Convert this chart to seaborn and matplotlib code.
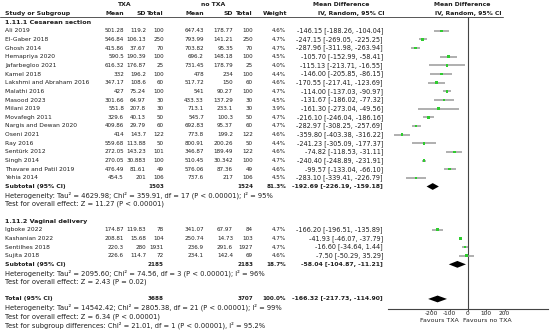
import matplotlib
matplotlib.use("Agg")
import matplotlib.pyplot as plt
import seaborn as sns
import pandas as pd

# ---------------- data ----------------
cs_studies = ["Ali 2019", "El-Gaber 2018", "Ghosh 2014", "Hemapriya 2020", "Jafarbegloo 2021",
              "Kamel 2018", "Lakshmi and Abraham 2016", "Malathi 2016", "Masood 2023", "Milani 2019",
              "Movafegh 2011", "Nargis and Dewan 2020", "Oseni 2021", "Ray 2016", "Sentürk 2012",
              "Singh 2014", "Thavare and Patil 2019", "Yehia 2014"]
cs_txa_mean = ["501.28", "546.84", "415.86", "590.5", "616.32", "332", "347.17", "427", "301.66", "551.8",
               "329.6", "409.86", "414", "559.68", "272.05", "270.05", "476.49", "454.5"]
cs_txa_sd = ["119.2", "106.13", "37.67", "190.39", "176.87", "196.2", "108.6", "75.24", "64.97", "207.8",
             "40.13", "29.79", "143.7", "113.88", "143.23", "30.883", "81.61", "201"]
cs_txa_n = [100, 250, 70, 100, 25, 100, 60, 100, 30, 30, 50, 60, 122, 50, 101, 100, 49, 106]
cs_no_mean = ["647.43", "793.99", "703.82", "696.2", "731.45", "478", "517.72", "541", "433.33", "713.1",
              "545.7", "692.83", "773.8", "800.91", "346.87", "510.45", "576.06", "737.6"]
cs_no_sd = ["178.77", "141.21", "95.35", "148.18", "178.79", "234", "150", "90.27", "137.29", "233.1",
            "100.3", "95.37", "199.2", "200.26", "189.49", "30.342", "87.36", "217"]
cs_no_n = [100, 250, 70, 100, 25, 100, 60, 100, 30, 30, 50, 60, 122, 50, 122, 100, 49, 106]
cs_weight = [4.6, 4.7, 4.7, 4.5, 4.0, 4.4, 4.6, 4.7, 4.5, 3.9, 4.7, 4.7, 4.6, 4.4, 4.6, 4.7, 4.6, 4.5]
cs_md = [-146.15, -247.15, -287.96, -105.70, -115.13, -146.00, -170.55, -114.00, -131.67, -161.30,
         -216.10, -282.97, -359.80, -241.23, -74.82, -240.40, -99.57, -283.10]
cs_lo = [-188.26, -269.05, -311.98, -152.99, -213.71, -205.85, -217.41, -137.03, -186.02, -273.04,
         -246.04, -308.25, -403.38, -305.09, -118.53, -248.89, -133.04, -339.41]
cs_hi = [-104.04, -225.25, -263.94, -58.41, -16.55, -86.15, -123.69, -90.97, -77.32, -49.56,
         -186.16, -257.69, -316.22, -177.37, -31.11, -231.91, -66.10, -226.79]

vd_studies = ["Igboke 2022", "Kashanian 2022", "Sentilhes 2018", "Sujita 2018"]
vd_txa_mean = ["174.87", "208.81", "220.3", "226.6"]
vd_txa_sd = ["119.83", "15.68", "280", "114.7"]
vd_txa_n = [78, 104, 1931, 72]
vd_no_mean = ["341.07", "250.74", "236.9", "234.1"]
vd_no_sd = ["67.97", "14.73", "291.6", "142.4"]
vd_no_n = [84, 103, 1927, 69]
vd_weight = [4.7, 4.7, 4.7, 4.6]
vd_md = [-166.20, -41.93, -16.60, -7.50]
vd_lo = [-196.51, -46.07, -34.64, -50.29]
vd_hi = [-135.89, -37.79, 1.44, 35.29]

pooled_labels = ["Subtotal (95% CI)", "Subtotal (95% CI)", "Total (95% CI)"]
pooled_txa_n = [1503, 2185, 3688]
pooled_no_n = [1524, 2183, 3707]
pooled_weight = ["81.3%", "18.7%", "100.0%"]
pooled_md = [-192.69, -58.04, -166.32]
pooled_lo = [-226.19, -104.87, -217.73]
pooled_hi = [-159.18, -11.21, -114.90]

het_lines = ["Heterogeneity: Tau² = 4629.98; Chi² = 359.91, df = 17 (P < 0.00001); I² = 95%",
             "Heterogeneity: Tau² = 2095.60; Chi² = 74.56, df = 3 (P < 0.00001); I² = 96%",
             "Heterogeneity: Tau² = 14542.42; Chi² = 2805.38, df = 21 (P < 0.00001); I² = 99%"]
effect_lines = ["Test for overall effect: Z = 11.27 (P < 0.00001)",
                "Test for overall effect: Z = 2.43 (P = 0.02)",
                "Test for overall effect: Z = 6.34 (P < 0.00001)"]
subgroup_line = "Test for subgroup differences: Chi² = 21.01, df = 1 (P < 0.00001), I² = 95.2%"
section_titles = ["1.11.1 Cesarean section", "1.11.2 Vaginal delivery"]
tick_values = [-200, -100, 0, 100, 200]
tick_labels = ["-200", "-100", "0", "100", "200"]

# ---------------- layout ----------------
W, H = 554, 331
Y0, DY = 30.8, 8.65
def row_y(i):
    return Y0 + DY * i

FS_NAME = 4.35
FS_NUM = 4.05
FS_CI = 4.7
FS_BOLD = 4.4
FS_HET = 4.85
TXT = "#1e1e1e"
GREEN = "#2ecc2e"
GREY = "#9a9a9a"

sns.set_theme(style="white")
plt.rcParams["font.family"] = ["DejaVu Sans"]

fig = plt.figure(figsize=(W / 100, H / 100), dpi=100)
tax = fig.add_axes([0, 0, 1, 1])
tax.set_xlim(0, W)
tax.set_ylim(H, 0)
tax.axis("off")

def t(x, y, s, fs, ha="left", bold=False):
    tax.text(x, y, s, ha=ha, va="center", fontsize=fs, color=TXT,
             fontweight="bold" if bold else "normal")

# column right edges
cx = dict(tm=124, tsd=146, tn=164, nm=204, nsd=233, nn=253, w=286, ci=383)
XL = 5

# headers
t(124.5, 4.5, "TXA", FS_BOLD, ha="center", bold=True)
t(213, 4.5, "no TXA", FS_BOLD, ha="center", bold=True)
t(341, 4.5, "Mean Difference", FS_BOLD, ha="center", bold=True)
t(462, 4.5, "Mean Difference", FS_BOLD, ha="center", bold=True)
hy = 13.3
t(XL, hy, "Study or Subgroup", FS_BOLD, bold=True)
for key, lab in [("tm", "Mean"), ("tsd", "SD"), ("tn", "Total"), ("nm", "Mean"),
                 ("nsd", "SD"), ("nn", "Total"), ("w", "Weight")]:
    t(cx[key] + (1 if key == "w" else 0), hy, lab, FS_BOLD, ha="right", bold=True)
t(351, hy, "IV, Random, 95% CI", FS_BOLD, ha="center", bold=True)
t(468, hy, "IV, Random, 95% CI", FS_BOLD, ha="center", bold=True)
tax.plot([0, 503], [16.8, 16.8], color="#555555", lw=0.7)

def ci_txt(m, lo, hi):
    return f"{m:.2f} [{lo:.2f}, {hi:.2f}]"

def study_rows(start, names, tm, tsd, tn, nm, nsd, nn, w, md, lo, hi):
    ys = []
    for k in range(len(names)):
        y = row_y(start + k)
        ys.append(y)
        t(XL, y, names[k], FS_NAME)
        t(cx["tm"], y, tm[k], FS_NUM, ha="right")
        t(cx["tsd"], y, tsd[k], FS_NUM, ha="right")
        t(cx["tn"], y, str(tn[k]), FS_NUM, ha="right")
        t(cx["nm"], y, nm[k], FS_NUM, ha="right")
        t(cx["nsd"], y, nsd[k], FS_NUM, ha="right")
        t(cx["nn"], y, str(nn[k]), FS_NUM, ha="right")
        t(cx["w"], y, f"{w[k]:.1f}%", FS_NUM, ha="right")
        t(cx["ci"], y, ci_txt(md[k], lo[k], hi[k]), FS_CI, ha="right")
    return ys

t(XL, row_y(-1), section_titles[0], FS_BOLD + 0.2, bold=True)
cs_y = study_rows(0, cs_studies, cs_txa_mean, cs_txa_sd, cs_txa_n, cs_no_mean, cs_no_sd, cs_no_n,
                  cs_weight, cs_md, cs_lo, cs_hi)
t(XL, row_y(22), section_titles[1], FS_BOLD + 0.2, bold=True)
vd_y = study_rows(23, vd_studies, vd_txa_mean, vd_txa_sd, vd_txa_n, vd_no_mean, vd_no_sd, vd_no_n,
                  vd_weight, vd_md, vd_lo, vd_hi)

pooled_rows = [18, 27, 31]
pooled_y = []
for k, r in enumerate(pooled_rows):
    y = row_y(r)
    pooled_y.append(y)
    t(XL, y, pooled_labels[k], FS_BOLD, bold=True)
    t(cx["tn"], y, str(pooled_txa_n[k]), FS_NUM, ha="right", bold=True)
    t(cx["nn"], y, str(pooled_no_n[k]), FS_NUM, ha="right", bold=True)
    t(cx["w"], y, pooled_weight[k], FS_NUM, ha="right", bold=True)
    t(cx["ci"], y, ci_txt(pooled_md[k], pooled_lo[k], pooled_hi[k]), FS_BOLD, ha="right", bold=True)
    t(XL, row_y(r + 1), het_lines[k], FS_HET)
    t(XL, row_y(r + 2), effect_lines[k], FS_HET)
t(XL, row_y(34), subgroup_line, FS_HET)

# ---------------- forest panel ----------------
AX_L, AX_R, AX_TOP, AX_BOT = 388, 548, 17, 309
fax = fig.add_axes([AX_L / W, (H - AX_BOT) / H, (AX_R - AX_L) / W, (AX_BOT - AX_TOP) / H])
fax.set_facecolor("none")
fax.set_xlim(-437, 437)
fax.set_ylim(AX_BOT, AX_TOP)

df = pd.DataFrame({
    "md": cs_md + vd_md,
    "lo": cs_lo + vd_lo,
    "hi": cs_hi + vd_hi,
    "y": cs_y + vd_y,
})
fax.hlines(df["y"], df["lo"], df["hi"], color=GREY, lw=1.1, zorder=2)
sns.scatterplot(data=df, x="md", y="y", marker="s", s=3.5, color=GREEN, edgecolor="none",
                ax=fax, zorder=3, legend=False)
half_h = 3.4
for m, lo, hi, y in zip(pooled_md, pooled_lo, pooled_hi, pooled_y):
    fax.fill([lo, m, hi, m], [y, y - half_h, y, y + half_h], color="black", lw=0, zorder=3)

fax.axvline(0, color="#444444", lw=0.8, zorder=1)
for s in ["top", "right", "left"]:
    fax.spines[s].set_visible(False)
fax.spines["bottom"].set_color("#444444")
fax.spines["bottom"].set_linewidth(0.8)
fax.set_xticks(tick_values)
fax.set_xticklabels(tick_labels)
fax.set_yticks([])
fax.tick_params(axis="x", direction="out", length=1.5, width=0.6, pad=0.2,
                labelsize=4.2, colors="#444444", labelcolor=TXT, bottom=True)
fax.set_xlabel("")
fax.set_ylabel("")

t(459, 320, "Favours TXA", 4.5, ha="right")
t(463, 320, "Favours no TXA", 4.5, ha="left")

fig.savefig("out.png", dpi=100)
